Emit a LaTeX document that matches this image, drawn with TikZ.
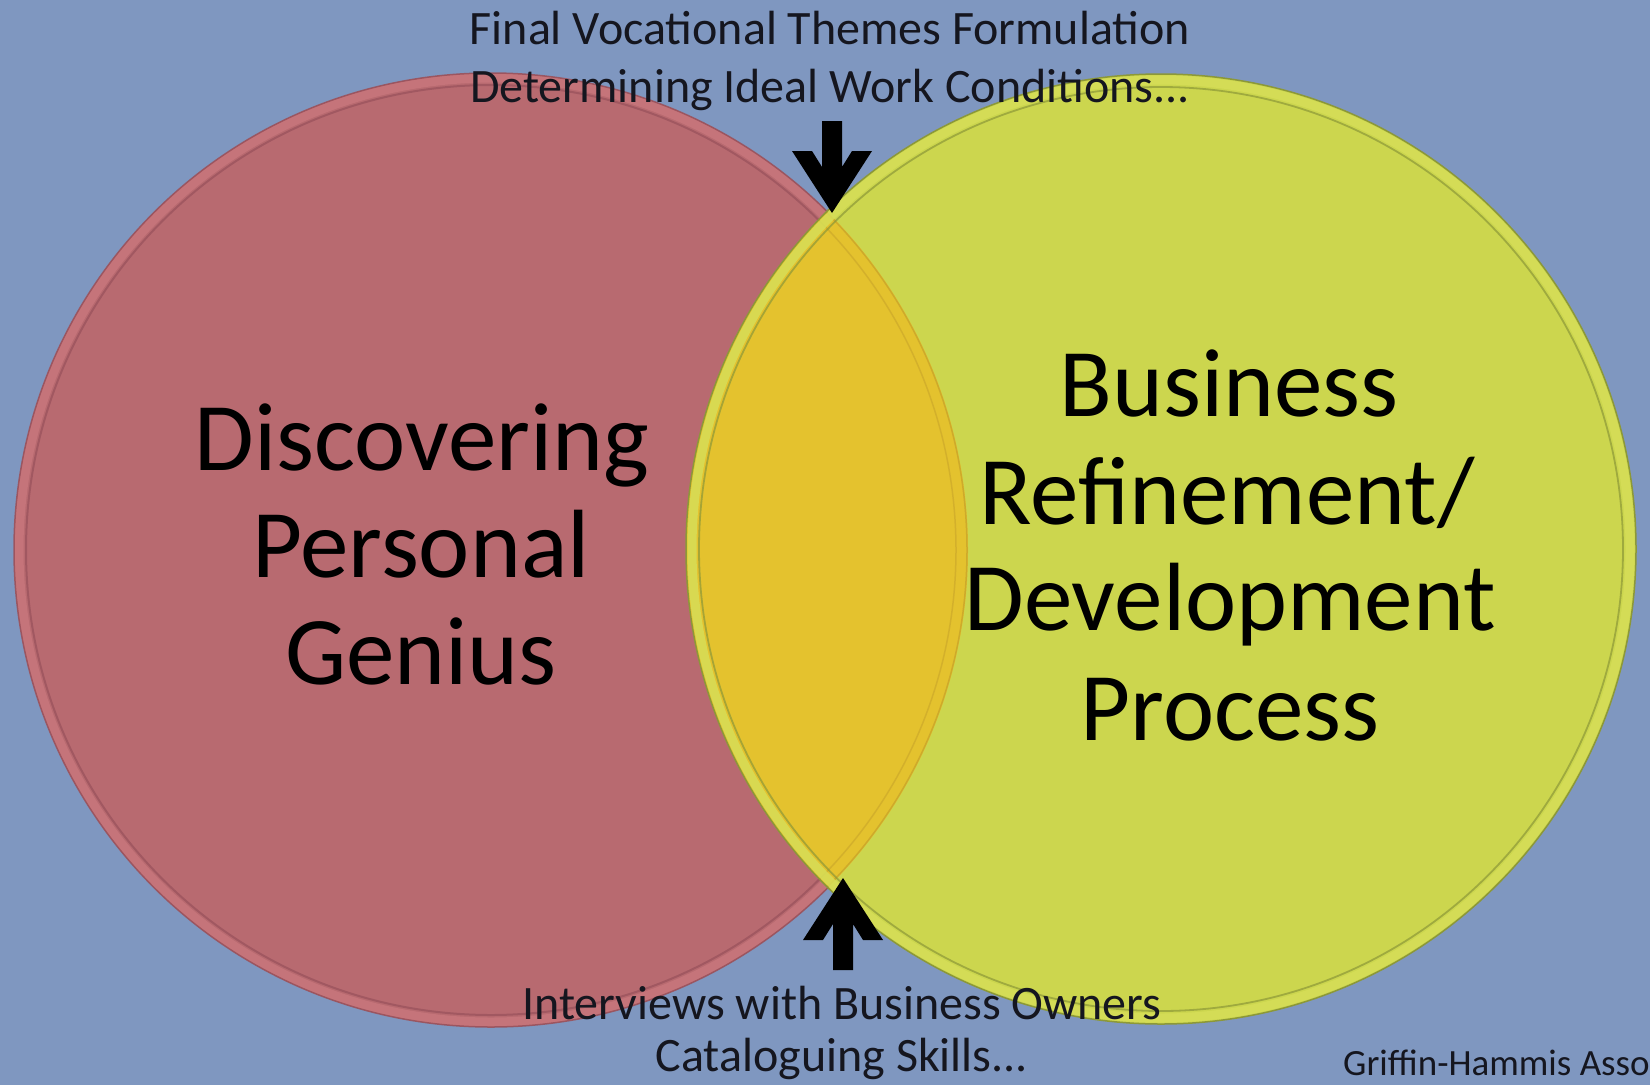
\documentclass[tikz,border=0pt]{standalone}
\usepackage{fontspec}
\setmainfont{Carlito}
\definecolor{bg}{HTML}{7F97C0}
\definecolor{redfill}{HTML}{B86A70}
\definecolor{redrim}{HTML}{C8767C}
\definecolor{redline}{HTML}{9A525C}
\definecolor{yelfill}{HTML}{CCD64E}
\definecolor{yelrim}{HTML}{D6DE58}
\definecolor{yelline}{HTML}{8C9838}
\definecolor{overlapc}{HTML}{E4C22E}
\definecolor{overline}{HTML}{C9A52A}
\definecolor{txt}{HTML}{15161F}
\tikzset{
  smalltext/.style={font=\fontsize{48}{56}\selectfont, text=txt, anchor=base, inner sep=0pt},
  bigtext/.style={font=\fontsize{97}{106}\selectfont, text=black, anchor=base, inner sep=0pt},
  credit/.style={font=\fontsize{37}{42}\selectfont, text=txt, anchor=base west, inner sep=0pt},
  blockarrow/.style={fill=black, draw=none},
}
\begin{document}
\begin{tikzpicture}[x=1pt,y=-1pt]
\fill[bg] (0,0) rectangle (1650,1085);
\useasboundingbox (0,0) rectangle (1650,1085);
\coordinate (L) at (491,550);
\coordinate (R) at (1161,549);
% fills
\fill[redfill] (L) circle (477pt);
\fill[yelfill] (R) circle (475pt);
\begin{scope}
  \clip (L) circle (477pt);
  \fill[overlapc] (R) circle (475pt);
\end{scope}
% left circle rims, outside the right circle
\begin{scope}[even odd rule]
  \clip (-10,-10) rectangle (1660,1095) (R) circle (475pt);
  \draw[redrim, line width=9pt, opacity=0.85] (L) circle (472pt);
  \draw[redline, line width=1.5pt, opacity=0.9] (L) circle (477pt);
  \draw[redline, line width=2pt, opacity=0.75] (L) circle (465pt);
\end{scope}
% left circle rims, inside the right circle (faint)
\begin{scope}
  \clip (R) circle (475pt);
  \draw[overline, line width=1.5pt, opacity=0.8] (L) circle (476pt);
  \draw[overline, line width=1.5pt, opacity=0.6] (L) circle (465pt);
\end{scope}
% right circle rims
\draw[yelrim, line width=9pt, opacity=0.85] (R) circle (469pt);
\draw[yelline, line width=1.5pt] (R) circle (475pt);
\draw[yelline, line width=1.8pt, opacity=0.7] (R) circle (462pt);
% top arrow (pointing down)
\begin{scope}[shift={(832,213)}]
  \fill[blockarrow] (-10,-92) -- (10,-92) -- (10,-46) -- (20,-62) -- (40,-62)
     -- (0,0) -- (-40,-62) -- (-20,-62) -- (-10,-46) -- cycle;
\end{scope}
% bottom arrow (pointing up)
\begin{scope}[shift={(843,878)}, yscale=-1]
  \fill[blockarrow] (-10,-92) -- (10,-92) -- (10,-46) -- (20,-62) -- (40,-62)
     -- (0,0) -- (-40,-62) -- (-20,-62) -- (-10,-46) -- cycle;
\end{scope}
% top texts
\node[smalltext] (t1) at (830,44) {Final Vocational Themes Formulation};
\node[smalltext] (t2) at (830,102) {Determining Ideal Work Conditions...};
% bottom texts
\node[smalltext] (b1) at (842,1019) {Interviews with Business Owners};
\node[smalltext] (b2) at (842,1071) {Cataloguing Skills...};
% left circle text
\node[bigtext] (l1) at (422,470) {Discovering};
\node[bigtext] (l2) at (421,577) {Personal};
\node[bigtext] (l3) at (421,684) {Genius};
% right circle text
\node[bigtext] (r1) at (1229,416) {Business};
\node[bigtext] (r2) at (1227,524) {Refinement/};
\node[bigtext] (r3) at (1230,630) {Development};
\node[bigtext] (r4) at (1230,740) {Process};
% credit
\node[credit] (cr) at (1343,1075) {Griffin-Hammis Asso};
\end{tikzpicture}
\end{document}
